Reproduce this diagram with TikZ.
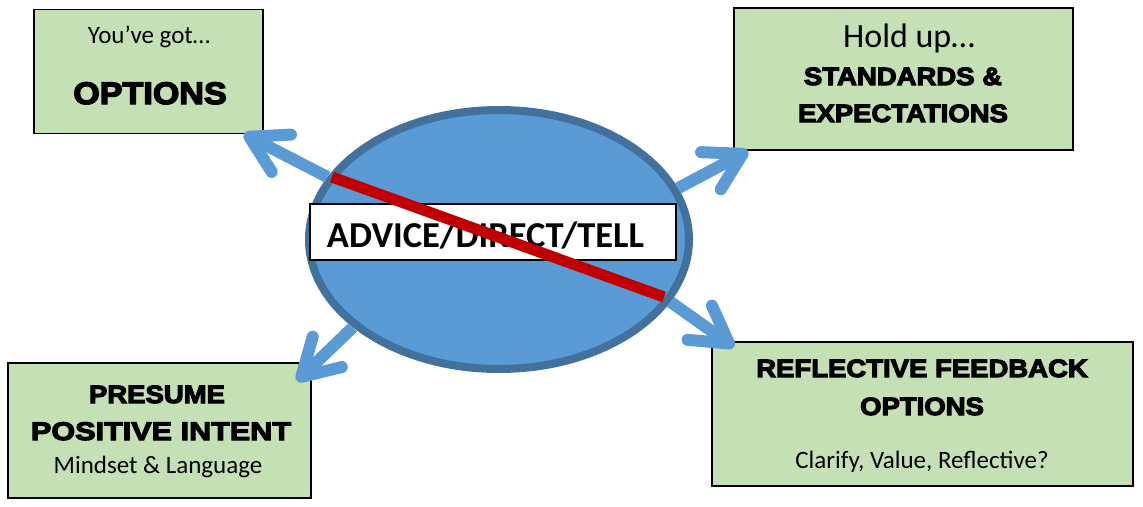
\documentclass[tikz,border=0pt]{standalone}
\usepackage{fontspec}
\setmainfont{Carlito}
\newfontfamily\blk{Liberation Sans}[FakeStretch=1.1, BoldFeatures={FakeBold=4.5}]
\newfontfamily\blkw{Liberation Sans}[FakeStretch=1.2, BoldFeatures={FakeBold=4.5}]
\usetikzlibrary{arrows.meta,shapes.geometric}
\definecolor{boxgreen}{HTML}{C5E0B4}
\definecolor{ellfill}{HTML}{5B9BD5}
\definecolor{elledge}{HTML}{41719C}
\definecolor{arrblue}{HTML}{5B9BD5}
\definecolor{nored}{HTML}{C00000}
\begin{document}
\begin{tikzpicture}[x=1pt,y=-1pt,
  box/.style={draw=black, line width=1.5pt, fill=boxgreen, inner sep=0pt},
  ttl/.style={anchor=base, inner sep=0pt, font=\blk\bfseries\fontsize{25}{30}\selectfont},
  sub/.style={anchor=base, inner sep=0pt, font=\fontsize{25}{30}\selectfont},
  arr/.style={draw=arrblue, line width=12pt, -{Straight Barb[length=36pt,width=42pt,round]}},
]
\useasboundingbox (0,0) rectangle (1143,506);

% boxes
\node[box, minimum width=229pt, minimum height=124pt] (tl) at (148.5,71.5) {};
\node[box, minimum width=339pt, minimum height=142pt] (tr) at (903.5,79) {};
\node[box, minimum width=303pt, minimum height=135pt] (bl) at (159.5,430.5) {};
\node[box, minimum width=421pt, minimum height=144pt] (br) at (922.5,414) {};

% ellipse
\node[ellipse, draw=elledge, fill=ellfill, line width=8pt, inner sep=0pt,
      minimum width=380pt, minimum height=259pt] (ell) at (499,239.5) {};

% arrow tips
\coordinate (tltip) at (244,134);
\coordinate (trtip) at (748,151);
\coordinate (bltip) at (297,381);
\coordinate (brtip) at (734,347);

\draw[arr] (ell.160) -- (tltip);
\draw[arr] (ell.16) -- (trtip);
\draw[arr] (ell.211) -- (bltip);
\draw[arr] (ell.340.7) -- (brtip);

% white label box
\node[draw=black, line width=1.5pt, fill=white, minimum width=366pt, minimum height=56pt, inner sep=0pt] (wb) at (493,232) {};
\node[anchor=base, inner sep=0pt, font=\bfseries\fontsize{36.5}{40}\selectfont] (adv) at (485.5,247) {ADVICE/DIRECT/TELL};

% red bar
\coordinate (rs) at (332,177);
\coordinate (re) at (664,297);
\draw[nored, line width=11pt] (rs) -- (re);

% texts
\node[sub] (t1) at (149,43) {You’ve got…};
\node[ttl, font=\blk\bfseries\fontsize{31}{34}\selectfont] (t2) at (150,104) {OPTIONS};

\node[sub, font=\fontsize{34}{38}\selectfont] (t3) at (909,47) {Hold up…};
\node[ttl] (t4) at (903,85) {STANDARDS \&};
\node[ttl] (t5) at (903,122) {EXPECTATIONS};

\node[ttl] (t6) at (157,403) {PRESUME};
\node[ttl, font=\blkw\bfseries\fontsize{25.5}{30}\selectfont] (t7) at (161,440) {POSITIVE INTENT};
\node[sub] (t8) at (158,473) {Mindset \& Language};

\node[ttl] (t9) at (922,377) {REFLECTIVE FEEDBACK};
\node[ttl] (t10) at (922,415) {OPTIONS};
\node[sub] (t11) at (922,468) {Clarify, Value, Reflective?};
\end{tikzpicture}
\end{document}
